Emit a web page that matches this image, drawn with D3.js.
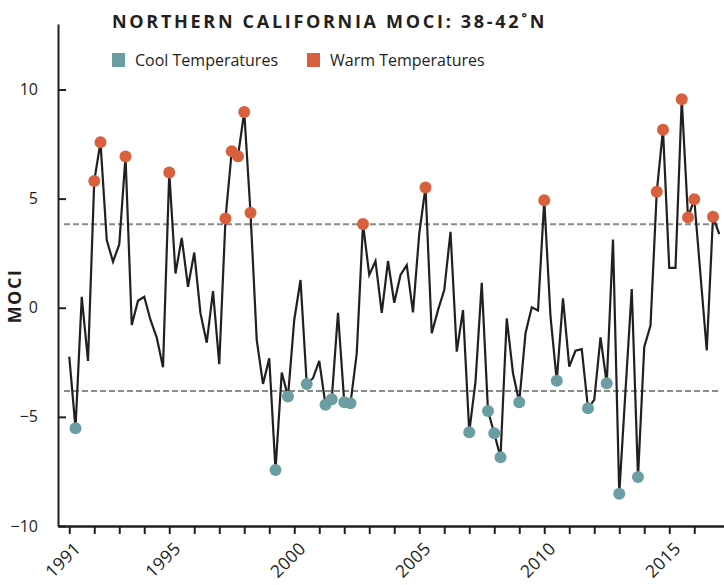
<!DOCTYPE html>
<html>
<head>
<meta charset="utf-8">
<script src="https://cdn.jsdelivr.net/npm/d3@7"></script>
<style>
	body { margin: 0; background: #fff; }
	svg { display: block; font-family: 'Open Sans', sans-serif; }
</style>
</head>
<body>
<svg id="chart" width="724" height="585"></svg>
<script>
// quarterly MOCI values, one row per year (Q1..Q4)
let years = [1991, 1992, 1993, 1994, 1995, 1996, 1997, 1998, 1999, 2000, 2001, 2002, 2003,
	2004, 2005, 2006, 2007, 2008, 2009, 2010, 2011, 2012, 2013, 2014, 2015, 2016, 2017]
let moci = [
	[-2.24, -5.52, 0.50, -2.44],
	[5.81, 7.58, 3.10, 2.11],
	[2.90, 6.93, -0.79, 0.32],
	[0.50, -0.56, -1.37, -2.73],
	[6.20, 1.57, 3.20, 0.96],
	[2.53, -0.26, -1.60, 0.76],
	[-2.59, 4.09, 7.17, 6.94],
	[8.97, 4.35, -1.48, -3.49],
	[-2.32, -7.43, -2.97, -4.07],
	[-0.56, 1.27, -3.49, -3.23],
	[-2.44, -4.45, -4.19, -0.23],
	[-4.33, -4.38, -2.09, 3.84],
	[1.50, 2.14, -0.23, 2.14],
	[0.23, 1.50, 1.95, -0.21],
	[3.40, 5.51, -1.17, -0.11],
	[0.81, 3.48, -2.01, -0.11],
	[-5.70, -3.39, 1.14, -4.73],
	[-5.75, -6.85, -0.49, -3.00],
	[-4.33, -1.17, 0.02, -0.13],
	[4.93, -0.40, -3.34, 0.43],
	[-2.70, -1.97, -1.90, -4.60],
	[-4.22, -1.36, -3.46, 3.13],
	[-8.52, -3.80, 0.86, -7.76],
	[-1.80, -0.82, 5.31, 8.16],
	[1.83, 1.83, 9.55, 4.14],
	[4.97, 1.50, -1.96, 4.17],
	[3.37]
]

let warmQuarters = ['1992-Q1', '1992-Q2', '1993-Q2', '1995-Q1', '1997-Q2', '1997-Q3', '1997-Q4',
	'1998-Q1', '1998-Q2', '2002-Q4', '2005-Q2', '2010-Q1', '2014-Q3', '2014-Q4', '2015-Q3',
	'2015-Q4', '2016-Q1', '2016-Q4']
let coolQuarters = ['1991-Q2', '1999-Q2', '1999-Q4', '2000-Q3', '2001-Q2', '2001-Q3', '2002-Q1',
	'2002-Q2', '2007-Q1', '2007-Q4', '2008-Q1', '2008-Q2', '2009-Q1', '2010-Q3', '2011-Q4',
	'2012-Q3', '2013-Q1', '2013-Q4']

let thresholds = [3.82, -3.82]
let yTicks = [-10, -5, 0, 5, 10]
let xTickYears = d3.range(1991, 2017)
let xLabelYears = [1991, 1995, 2000, 2005, 2010, 2015]

let colors = { cool: '#6a9ea3', warm: '#d9603f', ink: '#231f20', dash: '#8a8a8a' }

let config = {
	svg: d3.select('#chart'),
	xScale: undefined,
	yScale: undefined,
	data: []
}

function buildData() {
	let data = []
	years.forEach((yr, i) => {
		moci[i].forEach((v, q) => {
			let key = yr + '-Q' + (q + 1)
			let kind = warmQuarters.includes(key) ? 'warm' : coolQuarters.includes(key) ? 'cool' : null
			data.push({ key: key, t: yr + q / 4, value: v, kind: kind })
		})
	})
	config.data = data
}

function createScales() {
	config.xScale = d3.scaleLinear().domain([1990.55, 2017.19]).range([58, 724])
	config.yScale = d3.scaleLinear().domain([-10, 13]).range([526, 24])
}

function drawAxis() {
	let svg = config.svg
	let x = config.xScale, y = config.yScale

	let leftAxisG = svg.append('g')
		.attr('transform', 'translate(58, 0)')
		.call(d3.axisLeft(y).tickValues(yTicks).tickSize(-8).tickSizeOuter(0).tickPadding(20))
	leftAxisG.select('.domain').attr('stroke', colors.ink).attr('stroke-width', 2)
	leftAxisG.selectAll('.tick line').attr('stroke', colors.ink).attr('stroke-width', 2)
	leftAxisG.selectAll('.tick text')
		.attr('font-size', 16).attr('fill', colors.ink)
		.attr('font-family', "'Open Sans', sans-serif")

	let bottomAxisG = svg.append('g')
		.attr('transform', 'translate(0, 526)')
		.call(d3.axisBottom(x).tickValues(xTickYears).tickSize(8).tickSizeOuter(0).tickFormat(''))
	bottomAxisG.select('.domain').attr('stroke', colors.ink).attr('stroke-width', 2.5)
	bottomAxisG.selectAll('.tick line').attr('stroke', colors.ink).attr('stroke-width', 2)

	svg.append('g').selectAll('text')
		.data(xLabelYears)
		.join('text')
		.attr('transform', d => `translate(${x(d) + 4}, 541) rotate(-45)`)
		.attr('text-anchor', 'end')
		.attr('dy', '0.7em')
		.attr('font-size', 17.5)
		.attr('letter-spacing', 0.3)
		.attr('fill', colors.ink)
		.text(d => d)

	svg.append('text')
		.attr('transform', 'translate(21, 296) rotate(-90)')
		.attr('text-anchor', 'middle')
		.attr('font-size', 18)
		.attr('font-weight', 700)
		.attr('letter-spacing', 1.5)
		.attr('fill', colors.ink)
		.text('MOCI')
}

function drawThresholds() {
	config.svg.append('g').selectAll('line')
		.data(thresholds)
		.join('line')
		.attr('x1', 64).attr('x2', 719)
		.attr('y1', d => config.yScale(d)).attr('y2', d => config.yScale(d))
		.attr('stroke', colors.dash)
		.attr('stroke-width', 2)
		.attr('stroke-dasharray', '6,3')
}

function drawSeries() {
	let x = config.xScale, y = config.yScale
	let line = d3.line().x(d => x(d.t)).y(d => y(d.value))

	config.svg.append('path')
		.datum(config.data)
		.attr('fill', 'none')
		.attr('stroke', colors.ink)
		.attr('stroke-width', 2.2)
		.attr('stroke-linejoin', 'miter')
		.attr('d', line)

	config.svg.append('g').selectAll('circle')
		.data(config.data.filter(d => d.kind))
		.join('circle')
		.attr('cx', d => x(d.t))
		.attr('cy', d => y(d.value))
		.attr('r', 6)
		.attr('fill', d => colors[d.kind])
}

function drawTitleAndLegend() {
	let svg = config.svg
	svg.append('text')
		.attr('x', 112).attr('y', 28)
		.attr('font-size', 18)
		.attr('font-weight', 700)
		.attr('letter-spacing', 2.7)
		.attr('fill', colors.ink)
		.text('NORTHERN CALIFORNIA MOCI: 38-42˚N')

	let items = [
		{ label: 'Cool Temperatures', color: colors.cool, x: 112 },
		{ label: 'Warm Temperatures', color: colors.warm, x: 307 }
	]
	let g = svg.append('g').selectAll('g').data(items).join('g')
		.attr('transform', d => `translate(${d.x}, 53)`)
	g.append('rect').attr('width', 13).attr('height', 14).attr('fill', d => d.color)
	g.append('text')
		.attr('x', 23).attr('y', 13)
		.attr('font-size', 16)
		.attr('fill', colors.ink)
		.text(d => d.label)
}

function app() {
	buildData()
	createScales()
	drawThresholds()
	drawAxis()
	drawSeries()
	drawTitleAndLegend()
}

app()
</script>
</body>
</html>
